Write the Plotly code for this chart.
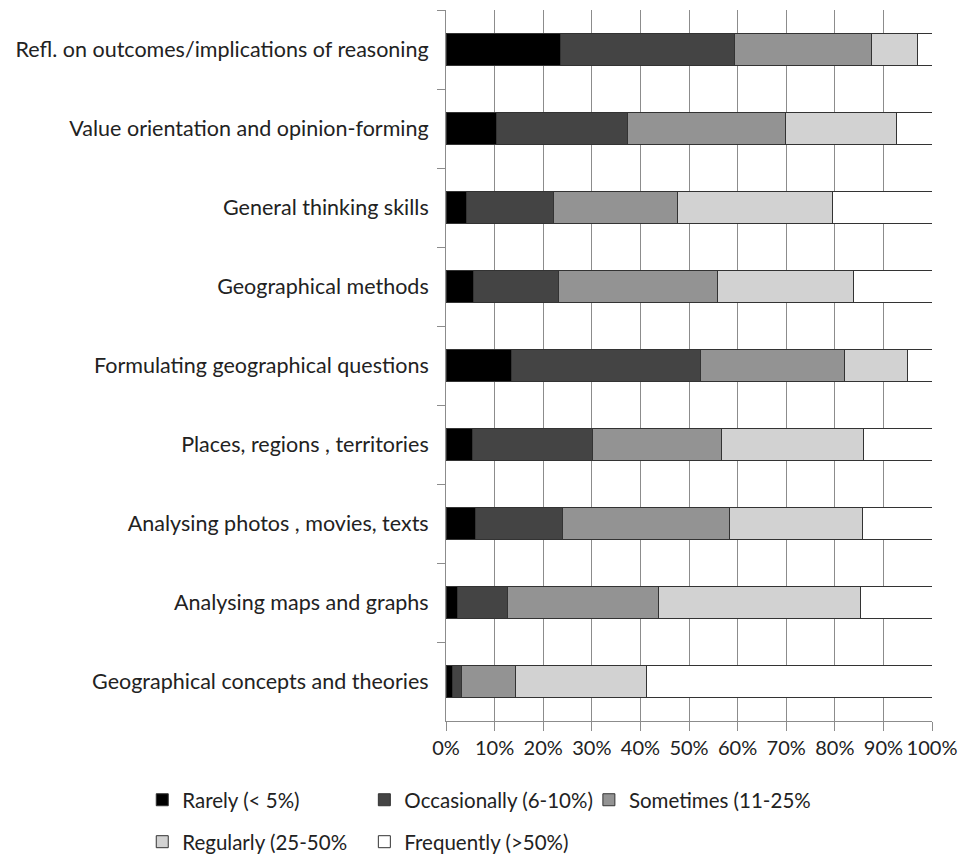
import plotly.graph_objects as go

categories = [
    "Refl. on outcomes/implications of reasoning",
    "Value orientation and opinion-forming",
    "General thinking skills",
    "Geographical methods",
    "Formulating geographical questions",
    "Places, regions , territories",
    "Analysing photos , movies, texts",
    "Analysing maps and graphs",
    "Geographical concepts and theories",
]
series_names = [
    "Rarely (< 5%)",
    "Occasionally (6-10%)",
    "Sometimes (11-25%",
    "Regularly (25-50%",
    "Frequently (>50%)",
]
rarely = [23.6, 10.4, 4.3, 5.6, 13.5, 5.4, 6.1, 2.4, 1.4]
occasionally = [35.8, 26.9, 17.9, 17.5, 38.8, 24.7, 17.9, 10.2, 1.8]
sometimes = [28.2, 32.5, 25.4, 32.8, 29.7, 26.5, 34.3, 31.2, 11.2]
regularly = [9.4, 22.8, 31.9, 28.0, 13.0, 29.3, 27.4, 41.4, 26.8]
frequently = [3.0, 7.4, 20.5, 16.1, 5.0, 14.1, 14.3, 14.8, 58.8]
series_values = [rarely, occasionally, sometimes, regularly, frequently]
colors = ["#000000", "#444444", "#939393", "#d2d2d2", "#ffffff"]

legend_ids = ["legend", "legend2", "legend3", "legend4", "legend5"]
legend_x = [-0.625, -0.168, 0.294, -0.625, -0.168]
legend_y = [-0.111, -0.111, -0.111, -0.170, -0.170]

FONT = "Lato, Open Sans, sans-serif"
FS = 21.5
LFS = 20.5

fig = go.Figure()
for name, vals, col, lg in zip(series_names, series_values, colors, legend_ids):
    fig.add_trace(go.Bar(
        y=categories, x=vals, name=name, orientation="h",
        marker=dict(color=col, line=dict(color="#333333", width=1)),
        legend=lg, showlegend=True,
    ))

legends = {}
for lg, lx, ly in zip(legend_ids, legend_x, legend_y):
    legends[lg] = dict(
        orientation="h", xref="paper", yref="paper",
        x=lx, y=ly, xanchor="left", yanchor="middle", itemwidth=30,
        font=dict(size=LFS), bgcolor="rgba(0,0,0,0)",
    )

fig.update_layout(
    width=963, height=855,
    showlegend=True,
    barmode="stack", bargap=0.595,
    plot_bgcolor="white", paper_bgcolor="white",
    margin=dict(l=446, r=31, t=10, b=134, autoexpand=False),
    font=dict(family=FONT, size=FS, color="#222222"),
    **legends,
)
fig.update_xaxes(
    range=[0, 100], dtick=10, ticksuffix="%", tickangle=0,
    showgrid=True, gridcolor="#8c8c8c", gridwidth=1,
    showline=True, linecolor="#8c8c8c", linewidth=1,
    ticks="outside", ticklen=9, tickcolor="#8c8c8c",
    zeroline=False, tickfont=dict(size=20),
)
fig.update_yaxes(
    autorange="reversed", tickson="boundaries",
    showline=True, linecolor="#8c8c8c", linewidth=1,
    ticks="outside", ticklen=8, tickcolor="#8c8c8c",
    showgrid=False, ticklabelstandoff=12, tickfont=dict(size=FS),
)

fig.write_html("out.html")
